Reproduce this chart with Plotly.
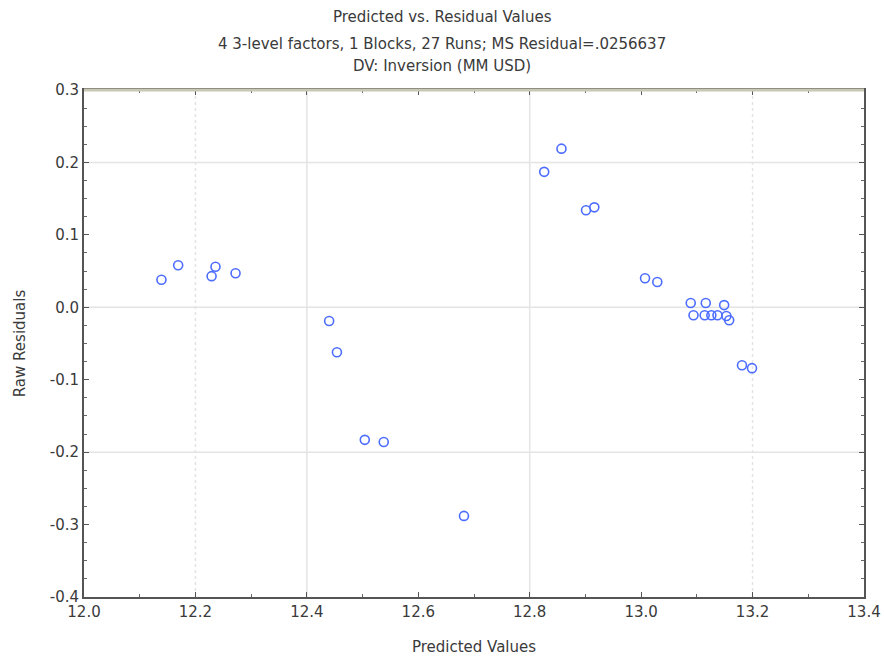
import plotly.graph_objects as go

predicted = [12.139, 12.169, 12.229, 12.236, 12.272, 12.440, 12.454, 12.504, 12.538, 12.682,
             12.826, 12.857, 12.901, 12.916, 13.007, 13.029, 13.089, 13.116, 13.149, 13.094,
             13.114, 13.126, 13.137, 13.153, 13.158, 13.181, 13.199]
residuals = [0.038, 0.058, 0.043, 0.056, 0.047, -0.019, -0.062, -0.183, -0.186, -0.288,
             0.187, 0.219, 0.134, 0.138, 0.040, 0.035, 0.006, 0.006, 0.003, -0.011,
             -0.011, -0.011, -0.011, -0.012, -0.018, -0.080, -0.084]

x_ticks = [12.0, 12.2, 12.4, 12.6, 12.8, 13.0, 13.2, 13.4]
x_tick_labels = ["12.0", "12.2", "12.4", "12.6", "12.8", "13.0", "13.2", "13.4"]
y_ticks = [0.3, 0.2, 0.1, 0.0, -0.1, -0.2, -0.3, -0.4]
y_tick_labels = ["0.3", "0.2", "0.1", "0.0", "-0.1", "-0.2", "-0.3", "-0.4"]

title_lines = ["Predicted vs. Residual Values",
               "4 3-level factors, 1 Blocks, 27 Runs; MS Residual=.0256637",
               "DV: Inversion (MM USD)"]

FONT = "DejaVu Sans, Verdana, sans-serif"
TXT = "#3a3a3a"

fig = go.Figure()
fig.add_trace(go.Scatter(
    x=predicted, y=residuals, mode="markers",
    marker=dict(symbol="circle-open", size=9, color="#4d6dff", line=dict(width=1.6, color="#4d6dff")),
    showlegend=False,
))

shapes = []
grid_col = "#e4e4e4"
for xv, dash in [(12.2, "dot"), (12.4, "solid"), (12.8, "solid"), (13.2, "dot")]:
    shapes.append(dict(type="line", xref="x", yref="y", x0=xv, x1=xv, y0=-0.4, y1=0.3,
                       line=dict(color=grid_col, width=1.5, dash=dash), layer="below"))
for yv in [0.2, 0.0, -0.2]:
    shapes.append(dict(type="line", xref="x", yref="y", x0=12.0, x1=13.4, y0=yv, y1=yv,
                       line=dict(color=grid_col, width=1.5), layer="below"))
# top frame line (light olive)
shapes.append(dict(type="line", xref="paper", yref="paper", x0=0, x1=1, y0=1, y1=1,
                   line=dict(color="#c8c8b4", width=3)))

annotations = []
for text, py in zip(title_lines, [17, 44, 66]):
    annotations.append(dict(text=text, xref="paper", yref="paper", x=(442 - 84) / 780,
                            y=(597 - py) / 507, xanchor="center", yanchor="middle",
                            showarrow=False, font=dict(family=FONT, size=15, color=TXT)))

fig.update_layout(
    width=884, height=660,
    margin=dict(l=84, r=20, t=90, b=63),
    paper_bgcolor="white", plot_bgcolor="white",
    font=dict(family=FONT, size=15, color=TXT),
    shapes=shapes, annotations=annotations,
    xaxis=dict(range=[12.0, 13.4], tickvals=x_ticks, ticktext=x_tick_labels, automargin=False,
               showgrid=False, zeroline=False, showline=True, linecolor="#555555", linewidth=2,
               mirror="ticks", ticks="inside", ticklen=5, tickcolor="#555555",
               minor=dict(dtick=0.1, tick0=12.0, ticks="inside", ticklen=3, tickcolor="#666666", showgrid=False),
               title=dict(text="Predicted Values", standoff=21, font=dict(size=15, color=TXT))),
    yaxis=dict(range=[-0.4, 0.3], tickvals=y_ticks, ticktext=y_tick_labels, automargin=False,
               showgrid=False, zeroline=False, showline=True, linecolor="#555555", linewidth=2,
               mirror="ticks", ticks="inside", ticklen=5, tickcolor="#555555",
               minor=dict(dtick=0.025, tick0=0.0, ticks="inside", ticklen=3, tickcolor="#666666", showgrid=False),
               title=dict(text="Raw Residuals", standoff=20, font=dict(size=15, color=TXT))),
)

fig.write_html("out.html", config={"displayModeBar": False},
               post_script="document.body.style.margin='0';document.body.style.overflow='hidden';")
